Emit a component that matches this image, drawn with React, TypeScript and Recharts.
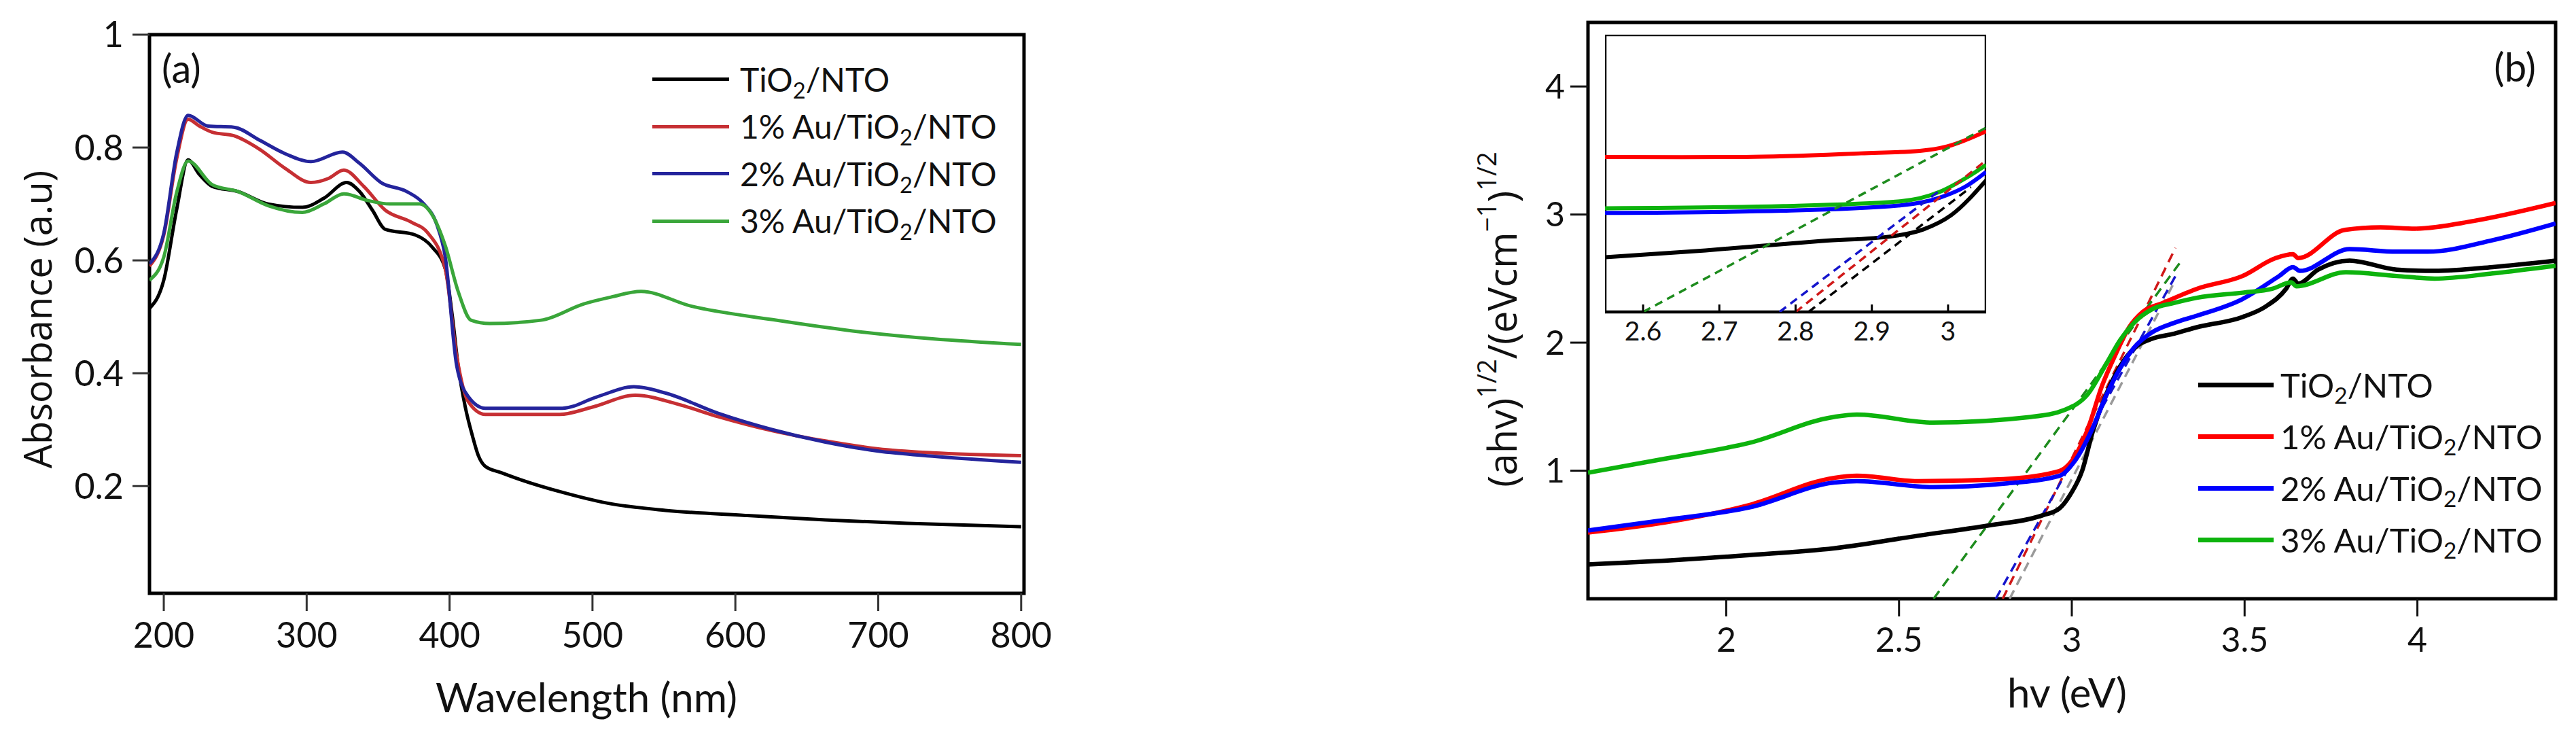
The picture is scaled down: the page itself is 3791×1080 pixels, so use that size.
import React from 'react';
import { LineChart, Line, XAxis, YAxis, ReferenceArea, Legend } from 'recharts';

// ---------- Panel (a): absorbance vs wavelength ----------
const wlTicks = [200, 300, 400, 500, 600, 700, 800];
const absTicks = [0.2, 0.4, 0.6, 0.8, 1];

const absTiO2 = [
  { x: 190, y: 0.515 }, { x: 200, y: 0.565 }, { x: 209, y: 0.69 }, { x: 217, y: 0.778 }, { x: 225, y: 0.752 },
  { x: 234, y: 0.731 }, { x: 252, y: 0.722 }, { x: 273, y: 0.7 }, { x: 297, y: 0.694 }, { x: 312, y: 0.71 },
  { x: 328, y: 0.738 }, { x: 337, y: 0.722 }, { x: 346, y: 0.689 }, { x: 355, y: 0.655 }, { x: 376, y: 0.645 },
  { x: 388, y: 0.623 }, { x: 397, y: 0.585 }, { x: 402, y: 0.5 }, { x: 406, y: 0.413 }, { x: 411, y: 0.34 },
  { x: 416, y: 0.289 }, { x: 420, y: 0.255 }, { x: 425, y: 0.235 }, { x: 436, y: 0.224 }, { x: 449, y: 0.212 },
  { x: 479, y: 0.189 }, { x: 510, y: 0.17 }, { x: 551, y: 0.157 }, { x: 607, y: 0.148 }, { x: 663, y: 0.14 },
  { x: 720, y: 0.134 }, { x: 800, y: 0.128 },
];
const abs1Au = [
  { x: 190, y: 0.59 }, { x: 200, y: 0.645 }, { x: 209, y: 0.78 }, { x: 217, y: 0.85 }, { x: 225, y: 0.838 },
  { x: 234, y: 0.827 }, { x: 249, y: 0.821 }, { x: 267, y: 0.797 }, { x: 285, y: 0.763 }, { x: 303, y: 0.738 },
  { x: 315, y: 0.745 }, { x: 326, y: 0.76 }, { x: 340, y: 0.731 }, { x: 355, y: 0.689 }, { x: 373, y: 0.668 },
  { x: 385, y: 0.648 }, { x: 397, y: 0.585 }, { x: 405, y: 0.43 }, { x: 413, y: 0.35 }, { x: 425, y: 0.327 },
  { x: 477, y: 0.327 }, { x: 500, y: 0.34 }, { x: 530, y: 0.361 }, { x: 560, y: 0.345 }, { x: 588, y: 0.323 },
  { x: 626, y: 0.298 }, { x: 663, y: 0.28 }, { x: 700, y: 0.266 }, { x: 738, y: 0.259 }, { x: 800, y: 0.254 },
];
const abs2Au = [
  { x: 190, y: 0.594 }, { x: 200, y: 0.648 }, { x: 209, y: 0.79 }, { x: 217, y: 0.857 }, { x: 231, y: 0.838 },
  { x: 249, y: 0.836 }, { x: 267, y: 0.813 }, { x: 285, y: 0.789 }, { x: 303, y: 0.775 }, { x: 325, y: 0.792 },
  { x: 337, y: 0.772 }, { x: 352, y: 0.738 }, { x: 370, y: 0.722 }, { x: 382, y: 0.7 }, { x: 391, y: 0.664 },
  { x: 397, y: 0.606 }, { x: 405, y: 0.413 }, { x: 413, y: 0.359 }, { x: 425, y: 0.338 }, { x: 479, y: 0.338 },
  { x: 503, y: 0.358 }, { x: 529, y: 0.376 }, { x: 551, y: 0.365 }, { x: 588, y: 0.329 }, { x: 626, y: 0.3 },
  { x: 663, y: 0.278 }, { x: 700, y: 0.262 }, { x: 738, y: 0.253 }, { x: 800, y: 0.242 },
];
const abs3Au = [
  { x: 190, y: 0.565 }, { x: 200, y: 0.606 }, { x: 209, y: 0.72 }, { x: 217, y: 0.776 }, { x: 234, y: 0.734 },
  { x: 252, y: 0.722 }, { x: 273, y: 0.697 }, { x: 297, y: 0.685 }, { x: 312, y: 0.7 }, { x: 326, y: 0.718 },
  { x: 343, y: 0.706 }, { x: 358, y: 0.7 }, { x: 379, y: 0.7 }, { x: 388, y: 0.68 }, { x: 397, y: 0.626 },
  { x: 406, y: 0.545 }, { x: 415, y: 0.494 }, { x: 428, y: 0.488 }, { x: 464, y: 0.494 }, { x: 494, y: 0.523 },
  { x: 513, y: 0.535 }, { x: 534, y: 0.545 }, { x: 569, y: 0.519 }, { x: 626, y: 0.495 }, { x: 682, y: 0.475 },
  { x: 738, y: 0.461 }, { x: 800, y: 0.451 },
];

// ---------- Panel (b): Tauc plot ----------
const evTicks = [2, 2.5, 3, 3.5, 4];
const taucTicks = [1, 2, 3, 4];

const taucTiO2 = [
  { x: 1.6, y: 0.268 }, { x: 1.822, y: 0.297 }, { x: 2.067, y: 0.341 }, { x: 2.312, y: 0.394 }, { x: 2.557, y: 0.493 },
  { x: 2.761, y: 0.573 }, { x: 2.916, y: 0.652 }, { x: 2.964, y: 0.705 }, { x: 2.997, y: 0.819 }, { x: 3.03, y: 1.0 },
  { x: 3.06, y: 1.3 }, { x: 3.1, y: 1.6 }, { x: 3.153, y: 1.87 }, { x: 3.192, y: 1.98 },
  { x: 3.232, y: 2.03 }, { x: 3.297, y: 2.07 }, { x: 3.362, y: 2.12 }, { x: 3.494, y: 2.2 }, { x: 3.56, y: 2.28 },
  { x: 3.62, y: 2.42 }, { x: 3.64, y: 2.5 }, { x: 3.655, y: 2.46 }, { x: 3.713, y: 2.57 }, { x: 3.804, y: 2.64 },
  { x: 3.94, y: 2.57 }, { x: 4.05, y: 2.56 }, { x: 4.218, y: 2.59 }, { x: 4.4, y: 2.64 },
];
const tauc1Au = [
  { x: 1.6, y: 0.517 }, { x: 1.822, y: 0.595 }, { x: 2.067, y: 0.732 }, { x: 2.312, y: 0.944 }, { x: 2.378, y: 0.96 },
  { x: 2.557, y: 0.918 }, { x: 2.802, y: 0.934 }, { x: 2.964, y: 0.997 }, { x: 2.997, y: 1.066 },
  { x: 3.047, y: 1.33 }, { x: 3.087, y: 1.66 }, { x: 3.127, y: 1.91 }, { x: 3.166, y: 2.12 },
  { x: 3.205, y: 2.24 }, { x: 3.264, y: 2.31 }, { x: 3.362, y: 2.42 }, { x: 3.494, y: 2.52 }, { x: 3.59, y: 2.66 },
  { x: 3.64, y: 2.69 }, { x: 3.655, y: 2.66 }, { x: 3.79, y: 2.88 }, { x: 3.893, y: 2.9 }, { x: 3.994, y: 2.89 },
  { x: 4.163, y: 2.95 }, { x: 4.4, y: 3.09 },
];
const tauc2Au = [
  { x: 1.6, y: 0.533 }, { x: 1.822, y: 0.615 }, { x: 2.067, y: 0.713 }, { x: 2.312, y: 0.907 }, { x: 2.378, y: 0.918 },
  { x: 2.598, y: 0.872 }, { x: 2.802, y: 0.898 }, { x: 2.964, y: 0.96 }, { x: 3.006, y: 1.066 },
  { x: 3.06, y: 1.33 }, { x: 3.1, y: 1.59 }, { x: 3.14, y: 1.8 }, { x: 3.18, y: 1.96 }, { x: 3.232, y: 2.08 },
  { x: 3.297, y: 2.155 }, { x: 3.362, y: 2.21 }, { x: 3.494, y: 2.34 }, { x: 3.6, y: 2.52 }, { x: 3.64, y: 2.59 },
  { x: 3.66, y: 2.56 }, { x: 3.804, y: 2.73 }, { x: 3.94, y: 2.71 }, { x: 4.03, y: 2.71 }, { x: 4.218, y: 2.8 },
  { x: 4.4, y: 2.93 },
];
const tauc3Au = [
  { x: 1.6, y: 0.984 }, { x: 1.822, y: 1.093 }, { x: 2.067, y: 1.217 }, { x: 2.312, y: 1.42 }, { x: 2.378, y: 1.438 },
  { x: 2.598, y: 1.376 }, { x: 2.882, y: 1.42 }, { x: 2.98, y: 1.475 }, { x: 3.047, y: 1.6 },
  { x: 3.1, y: 1.836 }, { x: 3.14, y: 2.02 },
  { x: 3.18, y: 2.155 }, { x: 3.232, y: 2.26 }, { x: 3.297, y: 2.31 }, { x: 3.362, y: 2.35 }, { x: 3.494, y: 2.39 },
  { x: 3.58, y: 2.42 }, { x: 3.635, y: 2.47 }, { x: 3.65, y: 2.44 }, { x: 3.793, y: 2.55 }, { x: 3.94, y: 2.52 },
  { x: 4.05, y: 2.5 }, { x: 4.218, y: 2.54 }, { x: 4.4, y: 2.6 },
];
// tangent (band-gap extrapolation) lines in the main plot
const fitTiO2 = [{ x: 2.82, y: 0 }, { x: 3.3, y: 2.49 }];
const fit1Au = [{ x: 2.8, y: 0 }, { x: 3.3, y: 2.74 }];
const fit2Au = [{ x: 2.78, y: 0 }, { x: 3.3, y: 2.52 }];
const fit3Au = [{ x: 2.6, y: 0 }, { x: 3.32, y: 2.65 }];

// ---------- Inset (zoom of the absorption edge) ----------
const insetTicks = [2.6, 2.7, 2.8, 2.9, 3];
const insetTiO2 = [
  { x: 2.55, y: 0.197 }, { x: 2.682, y: 0.222 }, { x: 2.835, y: 0.256 }, { x: 2.927, y: 0.273 },
  { x: 2.968, y: 0.298 }, { x: 3.004, y: 0.349 }, { x: 3.05, y: 0.475 },
];
const inset1Au = [
  { x: 2.55, y: 0.559 }, { x: 2.65, y: 0.558 }, { x: 2.733, y: 0.559 }, { x: 2.886, y: 0.572 },
  { x: 2.963, y: 0.581 }, { x: 2.999, y: 0.597 }, { x: 3.05, y: 0.652 },
];
const inset2Au = [
  { x: 2.55, y: 0.357 }, { x: 2.784, y: 0.365 }, { x: 2.937, y: 0.384 }, { x: 2.989, y: 0.412 },
  { x: 3.024, y: 0.454 }, { x: 3.05, y: 0.505 },
];
const inset3Au = [
  { x: 2.55, y: 0.374 }, { x: 2.784, y: 0.382 }, { x: 2.937, y: 0.399 }, { x: 2.989, y: 0.433 },
  { x: 3.024, y: 0.484 }, { x: 3.05, y: 0.53 },
];
const insetFitTiO2 = [{ x: 2.817, y: 0 }, { x: 3.03, y: 0.45 }];
const insetFit1Au = [{ x: 2.8, y: 0 }, { x: 3.05, y: 0.547 }];
const insetFit2Au = [{ x: 2.779, y: 0 }, { x: 2.99, y: 0.44 }];
const insetFit3Au = [{ x: 2.6, y: 0 }, { x: 3.05, y: 0.665 }];

const seriesNames = ['TiO2/NTO', '1% Au/TiO2/NTO', '2% Au/TiO2/NTO', '3% Au/TiO2/NTO'];
const colorsA = ['#000000', '#c62f33', '#24249c', '#3aa63a'];
const colorsB = ['#000000', '#ff0000', '#0000ff', '#0db30d'];
const fitColors = ['#9a9a9a', '#d01818', '#1515cc', '#1e8c1e'];
const insetFitColors = ['#000000', '#d01818', '#1515cc', '#1e8c1e'];

const TICK_FONT = 'Lato, "Open Sans", sans-serif';
const TITLE_FONT = '"Open Sans", "DejaVu Sans", sans-serif';

const renderName = (name: string) => {
  const parts = name.split('TiO2');
  return parts.map((p, i) => (
    <React.Fragment key={i}>
      {p}
      {i < parts.length - 1 && (
        <>
          TiO
          <span style={{ fontSize: '0.68em', position: 'relative', top: '0.3em' }}>2</span>
        </>
      )}
    </React.Fragment>
  ));
};

const LegendBox = ({ colors, rowH, lineLen, lineW, fontSize, gap }: any) => (
  <div style={{ fontFamily: TICK_FONT, fontSize, color: '#111' }}>
    {seriesNames.map((n, i) => (
      <div key={n} style={{ display: 'flex', alignItems: 'center', height: rowH, lineHeight: 1 }}>
        <svg width={lineLen} height={lineW + 2} style={{ display: 'block' }}>
          <line x1={0} x2={lineLen} y1={lineW / 2 + 1} y2={lineW / 2 + 1} stroke={colors[i]} strokeWidth={lineW} />
        </svg>
        <span style={{ marginLeft: gap, whiteSpace: 'nowrap' }}>{renderName(n)}</span>
      </div>
    ))}
  </div>
);

const PanelA = () => {
  const series = [absTiO2, abs1Au, abs2Au, abs3Au];
  return (
    <LineChart width={1600} height={1080} margin={{ top: 51, right: 93, bottom: 0, left: 0 }}>
      <XAxis
        dataKey="x" type="number" domain={[190, 802]} ticks={wlTicks} allowDataOverflow interval={0}
        height={207} tickSize={26} tickMargin={17} axisLine={false}
        tickLine={{ stroke: '#333', strokeWidth: 3 }}
        tick={{ fill: '#111', fontSize: 52, fontFamily: TICK_FONT }}
      />
      <YAxis
        type="number" domain={[0.01, 1]} ticks={absTicks} allowDataOverflow interval={0}
        width={220} tickSize={25} tickMargin={13} axisLine={false}
        tickLine={{ stroke: '#333', strokeWidth: 3 }}
        tick={{ fill: '#111', fontSize: 52, fontFamily: TICK_FONT }}
      />
      <ReferenceArea x1={190} x2={802} y1={0.01} y2={1} fill="none" stroke="#000" strokeWidth={5} />
      {series.map((d, i) => (
        <Line
          key={i} data={d} dataKey="y" name={seriesNames[i]} type="monotone" dot={false}
          stroke={colorsA[i]} strokeWidth={5} isAnimationActive={false}
        />
      ))}
      <Legend
        layout="vertical" align="center" verticalAlign="middle"
        wrapperStyle={{ left: 960, top: 82, width: 560, margin: 0 }}
        content={() => <LegendBox colors={colorsA} rowH={69.5} lineLen={113} lineW={5} fontSize={48} gap={16} />}
      />
    </LineChart>
  );
};

const PanelB = () => {
  const series = [taucTiO2, tauc1Au, tauc2Au, tauc3Au];
  const fits = [fitTiO2, fit1Au, fit2Au, fit3Au];
  return (
    <LineChart width={1891} height={1080} margin={{ top: 33, right: 30, bottom: 0, left: 0 }}>
      <XAxis
        dataKey="x" type="number" domain={[1.6, 4.4]} ticks={evTicks} allowDataOverflow interval={0}
        height={199} tickSize={26} tickMargin={16} axisLine={false}
        tickLine={{ stroke: '#111', strokeWidth: 3 }}
        tick={{ fill: '#111', fontSize: 50, fontFamily: TICK_FONT }}
      />
      <YAxis
        type="number" domain={[0, 4.5]} ticks={taucTicks} allowDataOverflow interval={0}
        width={437} tickSize={26} tickMargin={8} axisLine={false}
        tickLine={{ stroke: '#111', strokeWidth: 3 }}
        tick={{ fill: '#111', fontSize: 50, fontFamily: TICK_FONT }}
      />
      <ReferenceArea x1={1.6} x2={4.4} y1={0} y2={4.5} fill="none" stroke="#000" strokeWidth={5} />
      {fits.map((d, i) => (
        <Line
          key={'f' + i} data={d} dataKey="y" type="linear" dot={false} legendType="none"
          stroke={fitColors[i]} strokeWidth={3.5} strokeDasharray="14 9" isAnimationActive={false}
        />
      ))}
      {series.map((d, i) => (
        <Line
          key={i} data={d} dataKey="y" name={seriesNames[i]} type="monotone" dot={false}
          stroke={colorsB[i]} strokeWidth={6.5} isAnimationActive={false}
        />
      ))}
      <Legend
        layout="vertical" align="center" verticalAlign="middle"
        wrapperStyle={{ left: 1335, top: 528, width: 520, margin: 0 }}
        content={() => <LegendBox colors={colorsB} rowH={76} lineLen={111} lineW={7} fontSize={49} gap={10} />}
      />
    </LineChart>
  );
};

const Inset = () => {
  const series = [insetTiO2, inset1Au, inset2Au, inset3Au];
  const fits = [insetFitTiO2, insetFit1Au, insetFit2Au, insetFit3Au];
  return (
    <LineChart width={561} height={478} margin={{ top: 0, right: 0, bottom: 0, left: 0 }}>
      <XAxis
        dataKey="x" type="number" domain={[2.55, 3.05]} ticks={insetTicks} allowDataOverflow interval={0}
        height={70} tickSize={-11} tickMargin={25} axisLine={false}
        tickLine={{ stroke: '#000', strokeWidth: 3 }}
        tick={{ fill: '#111', fontSize: 39, fontFamily: TICK_FONT }}
      />
      <YAxis type="number" domain={[0, 1]} allowDataOverflow hide />
      <ReferenceArea x1={2.55} x2={3.05} y1={0} y2={1} fill="none" stroke="#000" strokeWidth={4.5} />
      {series.map((d, i) => (
        <Line
          key={i} data={d} dataKey="y" type="monotone" dot={false} legendType="none"
          stroke={colorsB[i]} strokeWidth={6} isAnimationActive={false}
        />
      ))}
      {fits.map((d, i) => (
        <Line
          key={'f' + i} data={d} dataKey="y" type="linear" dot={false} legendType="none"
          stroke={insetFitColors[i]} strokeWidth={3.5} strokeDasharray="12 8" isAnimationActive={false}
        />
      ))}
    </LineChart>
  );
};

export default function App() {
  return (
    <div style={{ position: 'absolute', left: 0, top: 0, width: 3791, height: 1080, background: '#fff', overflow: 'hidden' }}>
      <div style={{ position: 'absolute', left: 0, top: 0 }}>
        <PanelA />
      </div>
      <div style={{ position: 'absolute', left: 1900, top: 0 }}>
        <PanelB />
      </div>
      <div style={{ position: 'absolute', left: 2362, top: 51 }}>
        <Inset />
      </div>
      <svg width={3791} height={1080} style={{ position: 'absolute', left: 0, top: 0, pointerEvents: 'none' }}>
        <text transform="translate(76,470) rotate(-90)" textAnchor="middle" fontFamily={TITLE_FONT} fontSize={56} fill="#111">
          Absorbance (a.u)
        </text>
        <text x={863} y={1048} textAnchor="middle" fontFamily={TICK_FONT} fontSize={60} fill="#111">
          Wavelength (nm)
        </text>
        <text x={238} y={122} fontFamily={TICK_FONT} fontSize={58} fill="#111">(a)</text>
        <text x={3732} y={120} textAnchor="end" fontFamily={TICK_FONT} fontSize={58} fill="#111">(b)</text>
        <text x={3042} y={1041} textAnchor="middle" fontFamily={TICK_FONT} fontSize={60} fill="#111">hv (eV)</text>
        <text transform="translate(2232,470) rotate(-90)" textAnchor="middle" fontFamily={TITLE_FONT} fontSize={58} fill="#111">
          (ahv)
          <tspan fontSize={38} dy={-30}>1/2</tspan>
          <tspan dy={30}>/(eVcm</tspan>
          <tspan fontSize={38} dy={-30}>−1</tspan>
          <tspan dy={30}>)</tspan>
          <tspan fontSize={38} dy={-30}>1/2</tspan>
        </text>
      </svg>
    </div>
  );
}
